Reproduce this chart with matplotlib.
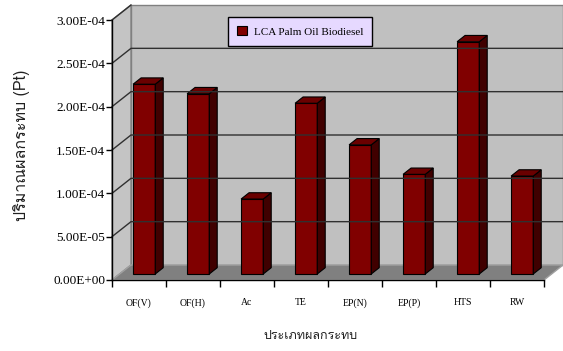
import matplotlib
matplotlib.use('Agg')
import matplotlib.pyplot as plt
from matplotlib.patches import Polygon, Rectangle, Patch
from matplotlib import font_manager
from matplotlib.ft2font import FT2Font

# ข้อมูล
categories = ['OF(V)', 'OF(H)', 'Ac', 'TE', 'EP(N)', 'EP(P)', 'HTS', 'RW']
values = [2.19e-4, 2.08e-4, 0.865e-4, 1.97e-4, 1.49e-4, 1.15e-4, 2.68e-4, 1.13e-4]
yticks = [0, 5e-5, 1e-4, 1.5e-4, 2e-4, 2.5e-4, 3e-4]
series_name = 'LCA Palm Oil Biodiesel'
ylabel = u'ปริมาณผลกระทบ (Pt)'
xlabel = u'ประเภทผลกระทบ'


def thai_family():
    """Busca una fuente instalada con glifos tailandeses"""
    for f in font_manager.fontManager.ttflist:
        try:
            if 0x0E1B in FT2Font(f.fname).get_charmap():
                return f.name
        except Exception:
            pass
    return 'DejaVu Sans'

THAI = [thai_family(), 'DejaVu Sans']
SERIF = 'Liberation Serif'

W, H = 563, 351
fig = plt.figure(figsize=(W / 100.0, H / 100.0), dpi=100)
fig.set_facecolor('w')

# axes: front y axis at px 112, front floor at px 280, wall top at px 5
ncat = len(categories)
DX = 19 / 54.0          # depth offset in category units
YMAX = 3e-4
DY = 15 / 260.0 * YMAX  # depth offset in value units
ax = fig.add_axes([112.0 / W, (H - 280.0) / H, 451.0 / W, 275.0 / H])
ax.set_xlim(0, ncat + DX)
ax.set_ylim(0, 275 / 260.0 * YMAX)
for s in ax.spines.values():
    s.set_visible(False)
ax.patch.set_visible(False)

# paredes y suelo
wall = '#c0c0c0'
ax.add_patch(Polygon([(DX, DY), (ncat + DX, DY), (ncat + DX, YMAX + DY), (DX, YMAX + DY)],
                     closed=True, fc=wall, ec='#808080', lw=1, clip_on=False))
ax.add_patch(Polygon([(0, 0), (DX, DY), (DX, YMAX + DY), (0, YMAX)],
                     closed=True, fc='#c4c4c4', ec='#808080', lw=1, clip_on=False))
ax.add_patch(Polygon([(0, 0), (ncat, 0), (ncat + DX, DY), (DX, DY)],
                     closed=True, fc='#808080', ec='#a0a0a0', lw=1, clip_on=False))
for t in yticks[1:-1]:
    ax.plot([0, DX, ncat + DX], [t, t + DY, t + DY], color='#303030', lw=1, clip_on=False)
ax.plot([0, DX], [YMAX, YMAX + DY], color='#303030', lw=1, clip_on=False)

# barras
f0, d, w, a = 0.4, 0.42, 0.41, 0.25
for i, v in enumerate(values):
    x0 = i + a + f0 * DX
    y0 = f0 * DY
    ax.add_patch(Rectangle((x0, y0), w, v, fc='#800000', ec='k', lw=0.8, clip_on=False))
    ax.add_patch(Polygon([(x0 + w, y0), (x0 + w + d * DX, y0 + d * DY),
                          (x0 + w + d * DX, y0 + v + d * DY), (x0 + w, y0 + v)],
                         closed=True, fc='#400000', ec='k', lw=0.8, clip_on=False))
    ax.add_patch(Polygon([(x0, y0 + v), (x0 + w, y0 + v),
                          (x0 + w + d * DX, y0 + v + d * DY), (x0 + d * DX, y0 + v + d * DY)],
                         closed=True, fc='#6a0000', ec='k', lw=0.8, clip_on=False))

# ejes frontales
ax.plot([0, 0], [0, YMAX], color='k', lw=1, clip_on=False)
ax.plot([0, ncat], [0, 0], color='k', lw=1, clip_on=False)
ax.set_yticks(yticks)
ax.set_yticklabels(['%.2E' % t for t in yticks], family=SERIF, size=9.5)
ax.tick_params(axis='y', direction='out', length=4, width=1, pad=1)
ax.set_xticks(range(ncat + 1))
ax.set_xticklabels([])
ax.set_xticks([i + 0.5 for i in range(ncat)], minor=True)
ax.set_xticklabels(categories, minor=True, family=SERIF, size=7)
ax.tick_params(axis='x', which='major', direction='out', length=5, width=1)
ax.tick_params(axis='x', which='minor', length=0, pad=13)

# títulos de ejes
fig.text(22.0 / W, 1 - 145.0 / H, ylabel, rotation=90, ha='center', va='center',
         family=THAI, size=11.5, color='#202020')
fig.text(310.0 / W, 1 - 336.0 / H, xlabel, ha='center', va='center',
         family=THAI, size=9, color='#202020')

# leyenda
leg = fig.legend(handles=[Patch(fc='#800000', ec='k', lw=0.8)], labels=[series_name],
                 loc='center', bbox_to_anchor=(300.0 / W, 1 - 31.5 / H),
                 prop=dict(family=SERIF, size=8), fancybox=False, framealpha=1,
                 facecolor='#e6d9ff', edgecolor='k', handlelength=0.9, handleheight=0.9,
                 handletextpad=0.6, borderpad=0.8)
leg.get_frame().set_linewidth(1)

fig.savefig('out.png', dpi=100)
